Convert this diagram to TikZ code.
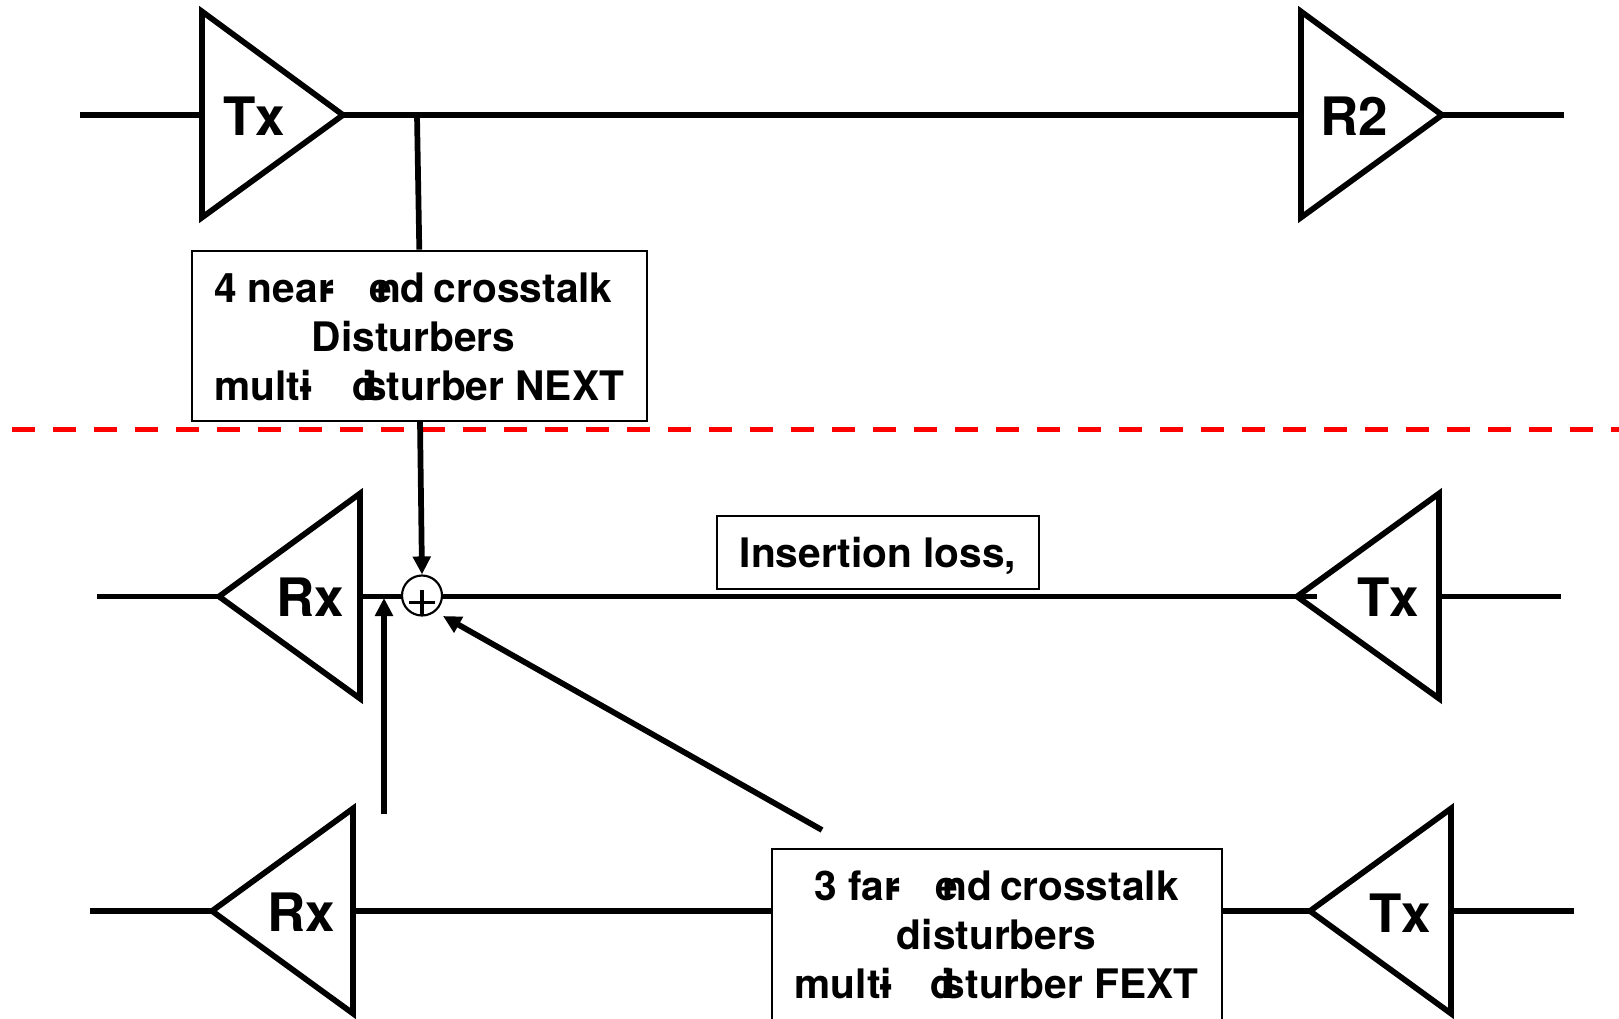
\documentclass[tikz,border=0pt]{standalone}
\usepackage{fontspec}
\setmainfont{TeX Gyre Heros}
\usetikzlibrary{arrows.meta}
\newcommand{\hyp}[1]{\kern-.3em-\kern#1em}
\newcommand{\wordend}{e\kern-.4em nd\kern-.08em}
\newcommand{\worddis}{d\kern-.35em i\kern-.24em sturber}
\begin{document}
\begin{tikzpicture}[x=.75pt,y=-.75pt,
  wire/.style={line width=4.3pt},
  amp/.style={line width=4.3pt,miter limit=10},
  arrowline/.style={line width=4.3pt,-{Triangle[length=13.5pt,width=13pt]}},
  amplabel/.style={font=\fontsize{39.7}{39.7}\selectfont\bfseries,inner sep=0pt},
  infobox/.style={draw,line width=1.5pt,fill=white,font=\fontsize{30.5}{36.75}\selectfont\bfseries,align=center,inner sep=0pt},
  sumnode/.style={draw,circle,line width=1.6pt,minimum size=30pt,inner sep=0pt,fill=white},
  separator/.style={draw=red,line width=3.8pt,dash pattern=on 17.25pt off 13.5pt}]
\useasboundingbox (0,0) rectangle (1619,1018);
\clip (0,0) rectangle (1619,1018);
% amplifiers
\coordinate (a1) at (202,11.5);  \coordinate (a2) at (202,217.5);  \coordinate (a3) at (343,115);
\coordinate (b1) at (1301,11.5); \coordinate (b2) at (1301,217.5); \coordinate (b3) at (1442,115);
\coordinate (c1) at (360,493.5); \coordinate (c2) at (360,698.5);  \coordinate (c3) at (219,596.5);
\coordinate (d1) at (1439,493.5);\coordinate (d2) at (1439,698.5); \coordinate (d3) at (1297,596.5);
\coordinate (e1) at (353,808.5); \coordinate (e2) at (353,1013.5); \coordinate (e3) at (212,911);
\coordinate (f1) at (1451,808.5);\coordinate (f2) at (1451,1013.5);\coordinate (f3) at (1310,911);
% free ends
\coordinate (l1) at (80,115);  \coordinate (a-in) at (202,115);
\coordinate (b-in) at (1301,115); \coordinate (r1) at (1564,115);
\coordinate (tap) at (417,115);
\coordinate (l2) at (97,596.5);  \coordinate (c-in) at (360,596.5);
\coordinate (stub) at (1317,596.5); \coordinate (d-in) at (1439,596.5); \coordinate (r2) at (1561,596.5);
\coordinate (l3) at (90,911);  \coordinate (e-in) at (353,911);
\coordinate (f-in) at (1451,911); \coordinate (r3) at (1574,911);
\coordinate (nextfoot) at (420,421);
\coordinate (vfrom) at (384,814); \coordinate (vto) at (384,598);
\coordinate (dfrom) at (822,830); \coordinate (dto) at (443,616);
\coordinate (sepL) at (12,429.3); \coordinate (sepR) at (1619,429.3);
% wires
\draw[wire] (l1) -- (a-in);
\draw[wire] (a3) -- (b-in);
\draw[wire] (b3) -- (r1);
\draw[wire] (l2) -- (c3);
\draw[wire] (d-in) -- (r2);
\draw[wire] (l3) -- (e3);
\draw[wire] (e-in) -- (f3);
\draw[wire] (f-in) -- (r3);
\draw[wire] (c-in) -- (stub);
% triangles
\draw[amp] (a1) -- (a3) -- (a2) -- cycle;
\draw[amp] (b1) -- (b3) -- (b2) -- cycle;
\draw[amp] (c1) -- (c3) -- (c2) -- cycle;
\draw[amp] (d1) -- (d3) -- (d2) -- cycle;
\draw[amp] (e1) -- (e3) -- (e2) -- cycle;
\draw[amp] (f1) -- (f3) -- (f2) -- cycle;
% labels
\node[amplabel] (txA) at (254,116) {Tx};
\node[amplabel] (rTwo) at (1354,116) {R2};
\node[amplabel] (rxB) at (310,597) {Rx};
\node[amplabel] (txB) at (1388,597) {Tx};
\node[amplabel] (rxC) at (301.5,912) {Rx};
\node[amplabel] (txC) at (1400,913) {Tx};
% separator
\path[separator] (sepL) -- (sepR);
% boxes
\node[infobox,minimum width=341pt,minimum height=128pt] (nextbox) at (419.3,336)
  {\mbox{\rule{0pt}{24pt}4 near\hyp{.85}\wordend{} crosstalk\kern9pt}\\\mbox{Disturbers\kern8.6pt}\\\mbox{multi\hyp{.96}\worddis{} NEXT}};
\node[infobox,minimum width=337.5pt,minimum height=129pt] (fextbox) at (996.5,934.5)
  {3 far\hyp{.85}\wordend{} crosstalk\\disturbers\\multi\hyp{.92}\worddis{} FEXT};
\node[infobox,minimum width=241.5pt,minimum height=54.5pt] (ilbox) at (878,552.5) {\raisebox{-11pt}[0pt][0pt]{Insertion loss,}};
% sum
\node[sumnode] (sum) at (422,595.5) {};
\draw[line width=2.5pt] (409,602.5) -- (435,602.5);
\draw[line width=2.5pt] (422,590) -- (422,615.5);
% connectors
\draw[wire] (tap) -- (nextbox.north);
\draw[arrowline] (nextfoot) -- (sum.north);
\draw[arrowline] (vfrom) -- (vto);
\draw[arrowline] (dfrom) -- (dto);
\end{tikzpicture}
\end{document}
